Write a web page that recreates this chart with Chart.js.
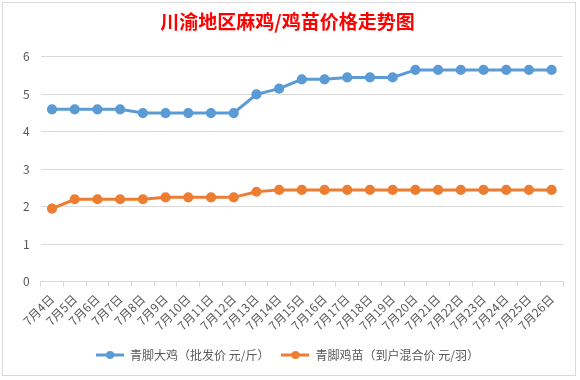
<!DOCTYPE html>
<html>
<head>
<meta charset="utf-8">
<script src="https://cdn.jsdelivr.net/npm/chart.js@4/dist/chart.umd.min.js"></script>
<style>
html,body{margin:0;padding:0;background:#fff;}
#wrap{position:absolute;left:2px;top:2px;width:574px;height:374px;border:1px solid #d9d9d9;box-sizing:border-box;}
canvas{position:absolute;left:0;top:0;}
</style>
</head>
<body>
<div id="wrap"></div>
<canvas id="c" width="580" height="380"></canvas>
<script>
const categories = ["7月4日","7月5日","7月6日","7月7日","7月8日","7月9日","7月10日","7月11日","7月12日","7月13日","7月14日","7月15日","7月16日","7月17日","7月18日","7月19日","7月20日","7月21日","7月22日","7月23日","7月24日","7月25日","7月26日"];
const bigChicken = [4.6,4.6,4.6,4.6,4.5,4.5,4.5,4.5,4.5,5.0,5.15,5.4,5.4,5.45,5.45,5.45,5.65,5.65,5.65,5.65,5.65,5.65,5.65];
const chicks = [1.95,2.2,2.2,2.2,2.2,2.25,2.25,2.25,2.25,2.4,2.45,2.45,2.45,2.45,2.45,2.45,2.45,2.45,2.45,2.45,2.45,2.45,2.45];
const seriesNames = ["青脚大鸡（批发价 元/斤）","青脚鸡苗（到户混合价 元/羽）"];
const yTicks = [0,1,2,3,4,5,6];
const titleText = "川渝地区麻鸡/鸡苗价格走势图";

const blue = "#5b9bd5", orange = "#ed7d31";
function legendImg(color){
  const c = document.createElement('canvas');
  c.width = 28; c.height = 10;
  const x = c.getContext('2d');
  x.strokeStyle = color; x.lineWidth = 3;
  x.beginPath(); x.moveTo(0,5); x.lineTo(28,5); x.stroke();
  x.fillStyle = color; x.beginPath(); x.arc(14,5,4,0,Math.PI*2); x.fill();
  return c;
}
const imgs = [legendImg(blue), legendImg(orange)];
const font = "'Noto Sans CJK SC', 'Microsoft YaHei', sans-serif";

new Chart(document.getElementById('c'), {
  type: 'line',
  data: {
    labels: categories,
    datasets: [
      {label: seriesNames[0], data: bigChicken, borderColor: blue, backgroundColor: blue, borderWidth: 3, pointRadius: 3.6, pointHoverRadius: 4, tension: 0},
      {label: seriesNames[1], data: chicks, borderColor: orange, backgroundColor: orange, borderWidth: 3, pointRadius: 3.6, pointHoverRadius: 4, tension: 0}
    ]
  },
  options: {
    responsive: false,
    animation: false,
    layout: {padding: {left: 12, right: 17, top: 4, bottom: 9}},
    plugins: {
      title: {display: true, text: titleText, color: '#ff0000', font: {family: font, size: 19, weight: 'bold'}, padding: {top: 6, bottom: 24}},
      legend: {
        position: 'bottom',
        labels: {
          usePointStyle: true, pointStyleWidth: 28, color: '#595959', padding: 12,
          font: {family: font, size: 12},
          generateLabels: (chart) => Chart.defaults.plugins.legend.labels.generateLabels(chart).map((l,i) => Object.assign(l, {pointStyle: imgs[i]}))
        }
      },
      tooltip: {enabled: false}
    },
    scales: {
      x: {
        offset: true,
        grid: {offset: true, drawOnChartArea: false, drawTicks: true, tickLength: 5, color: '#d9d9d9'},
        border: {color: '#d9d9d9'},
        ticks: {maxRotation: 45, minRotation: 45, autoSkip: false, color: '#595959', font: {family: font, size: 12}, padding: 5},
        afterFit: (s) => { s.height -= 1; }
      },
      y: {
        min: 0, max: 6,
        afterBuildTicks: (s) => { s.ticks = yTicks.map(v => ({value: v})); },
        grid: {color: '#d9d9d9', drawTicks: false},
        border: {display: false},
        ticks: {color: '#595959', font: {family: font, size: 12}, padding: 11}
      }
    }
  }
});
</script>
</body>
</html>
